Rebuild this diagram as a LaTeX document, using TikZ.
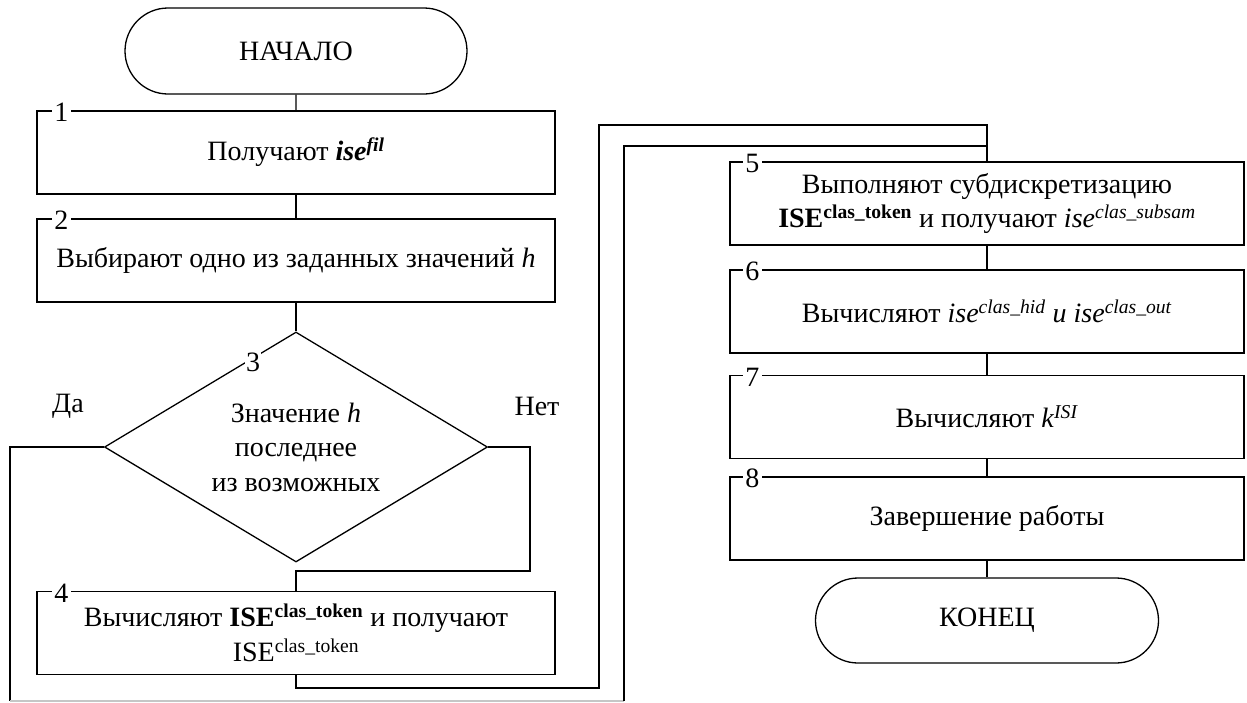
\documentclass[tikz,border=0pt]{standalone}
\usepackage{fontspec}
\setmainfont{Liberation Serif}
\usetikzlibrary{shapes.geometric,shapes.misc}
\begin{document}
\begin{tikzpicture}[x=1pt,y=-1pt,
  txt/.style={font=\fontsize{28}{34.5}\selectfont},
  ln/.style={line width=1.3pt},
  term/.style={txt, draw, ln, rounded rectangle, minimum width=342pt, minimum height=86pt, inner sep=0pt},
  proc/.style={txt, draw, ln, rectangle, minimum width=518pt, minimum height=83pt, inner sep=0pt, align=center},
  procr/.style={proc, minimum width=514pt},
  dec/.style={txt, draw, ln, diamond, aspect=1.665, minimum width=383pt, minimum height=230pt, inner sep=0pt, align=center},
  numlab/.style={txt, fill=white, inner sep=2.5pt},
  yn/.style={txt, inner sep=0pt}
]
\useasboundingbox (0,0) rectangle (1247,702);

% left column
\node[term] (start) at (296,51) {НАЧАЛО};
\node[proc] (b1) at (296,152.5) {Получают \textbf{\textit{ise}}\textsuperscript{\textbf{\textit{fil}}}};
\node[proc] (b2) at (296,260.5) {Выбирают одно из заданных значений \textit{h}};
\node[dec] (d3) at (296,447) {Значение \textit{h}\\последнее\\из возможных};
\node[proc] (b4) at (296,633) {Вычисляют \textbf{ISE}\textsuperscript{\textbf{clas\_token}} и получают\\ISE\textsuperscript{clas\_token}};

% right column
\node[procr] (b5) at (987,203.5) {Выполняют субдискретизацию\\\textbf{ISE}\textsuperscript{\textbf{clas\_token}} и получают \textit{ise}\textsuperscript{\textit{clas\_subsam}}};
\node[procr] (b6) at (987,311.5) {Вычисляют \textit{ise}\textsuperscript{\textit{clas\_hid}} \textit{и ise}\textsuperscript{\textit{clas\_out}}};
\node[procr] (b7) at (987,417) {Вычисляют \textit{k}\textsuperscript{\textit{ISI}}};
\node[procr] (b8) at (987,518.5) {Завершение работы};
\node[term, minimum width=343pt, minimum height=85pt] (end) at (987,620.5) {КОНЕЦ};

% number labels
\node[numlab] (n1) at ([xshift=25pt,yshift=-2pt]b1.north west) {1};
\node[numlab] (n2) at ([xshift=25pt,yshift=-2pt]b2.north west) {2};
\node[numlab] (n4) at ([xshift=25pt,yshift=-2pt]b4.north west) {4};
\node[numlab] (n5) at ([xshift=23pt,yshift=-2pt]b5.north west) {5};
\node[numlab] (n6) at ([xshift=23pt,yshift=-2pt]b6.north west) {6};
\node[numlab] (n7) at ([xshift=23pt,yshift=-2pt]b7.north west) {7};
\node[numlab] (n8) at ([xshift=23pt,yshift=-2pt]b8.north west) {8};
\node[numlab, inner sep=1pt] (n3) at (253,362) {3};

\node[yn] (da) at (68,406) {Да};
\node[yn] (net) at (537,406) {Нет};

% coordinates
\coordinate (daL) at (10,447);
\coordinate (daB) at (10,701);
\coordinate (daR) at (624,701);
\coordinate (daT) at (624,146);
\coordinate (jn2) at (987,146);
\coordinate (netR) at (530,447);
\coordinate (netB) at (530,571);
\coordinate (netC) at (296,571);
\coordinate (b4B) at (296,688);
\coordinate (b4R) at (599,688);
\coordinate (b4T) at (599,125);
\coordinate (jn1) at (987,125);

% connectors
\draw[ln] (start) -- (b1);
\draw[ln] (b1) -- (b2);
\draw[ln] (b2) -- (d3);
\draw[ln] (d3.west) -- (daL) -- (daB);
\draw[line width=1.3pt, gray!45] (daB) -- (daR);
\draw[ln] (daR) -- (daT) -- (jn2);
\draw[ln] (d3.east) -- (netR) -- (netB) -- (netC) -- (b4.north);
\draw[ln] (b4.south) -- (b4B) -- (b4R) -- (b4T) -- (jn1) -- (b5.north);
\draw[ln] (b5) -- (b6);
\draw[ln] (b6) -- (b7);
\draw[ln] (b7) -- (b8);
\draw[ln] (b8) -- (end);
\end{tikzpicture}
\end{document}
